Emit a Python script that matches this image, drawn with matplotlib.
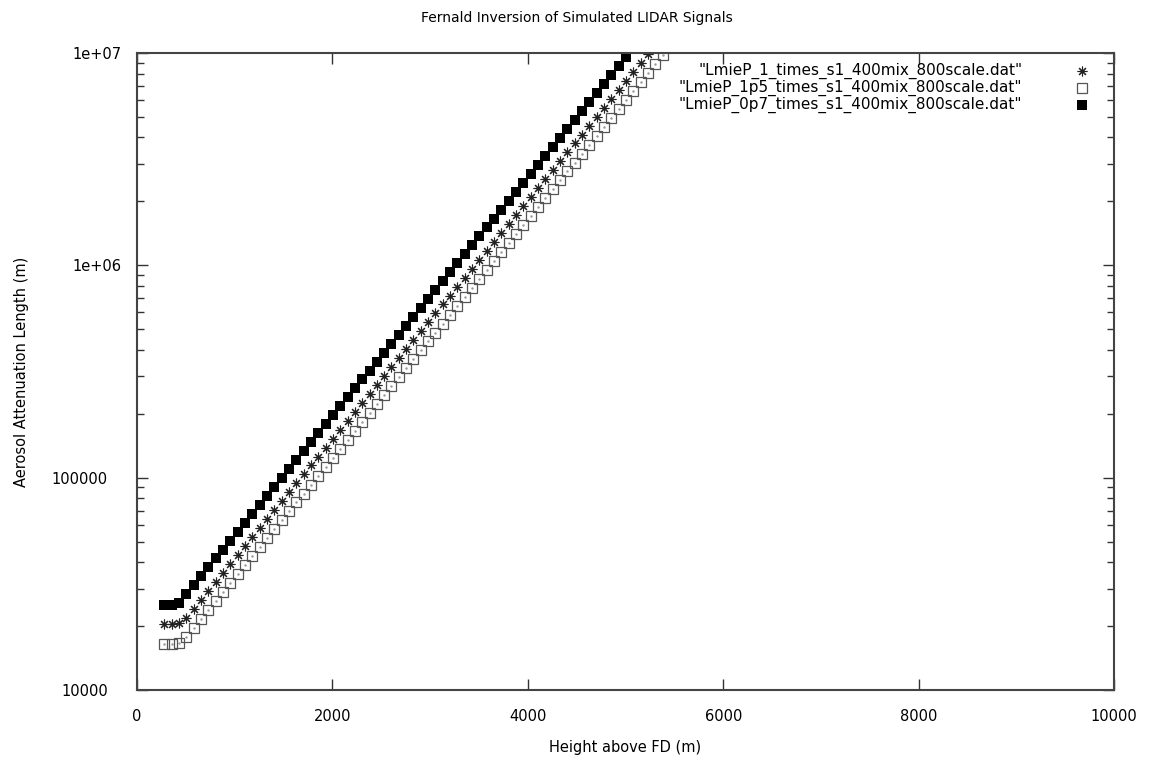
import numpy as np
import matplotlib
matplotlib.use('Agg')
import matplotlib.pyplot as plt
import matplotlib.transforms as mtransforms
from matplotlib.ticker import FixedLocator, LogLocator, NullFormatter

# range bins (m), 75 m step
height = [280 + 75 * k for k in range(69)]

# LmieP_0p7 (filled squares)
L_0p7 = [25000, 25000, 25600, 28260, 31130, 34300, 37800, 41650, 45880, 50560,
         55710, 61400, 67650, 74540, 82130, 90500, 99720, 109900, 121100, 133400,
         147000, 162000, 178500, 196700, 216700, 238800, 263000, 290000, 319400, 351900,
         387800, 427200, 470800, 518700, 571600, 629800, 693900, 764600, 842500, 928300,
         1.023e6, 1.127e6, 1.242e6, 1.368e6, 1.508e6, 1.661e6, 1.830e6, 2.017e6, 2.223e6, 2.449e6,
         2.698e6, 2.973e6, 3.276e6, 3.610e6, 3.977e6, 4.383e6, 4.829e6, 5.321e6, 5.863e6, 6.461e6,
         7.118e6, 7.843e6, 8.644e6, 9.524e6]

# LmieP_1 (stars)
L_1 = [20500, 20500, 20700, 21930, 24160, 26620, 29330, 32320, 35600, 39230,
       43230, 47650, 52500, 57840, 63730, 70230, 77380, 85280, 93970, 103500,
       114100, 125700, 138500, 152600, 168200, 185300, 204100, 225000, 247900, 273100,
       300900, 331500, 365300, 402500, 443600, 488700, 538500, 593300, 653800, 720400,
       793800, 874600, 963800, 1.062e6, 1.170e6, 1.289e6, 1.420e6, 1.565e6, 1.725e6, 1.900e6,
       2.094e6, 2.307e6, 2.542e6, 2.801e6, 3.086e6, 3.401e6, 3.747e6, 4.129e6, 4.550e6, 5.014e6,
       5.524e6, 6.086e6, 6.708e6, 7.391e6, 8.143e6, 8.971e6, 9.886e6]

# LmieP_1p5 (open squares)
L_1p5 = [16400, 16400, 16600, 17830, 19640, 21640, 23850, 26280, 28950, 31900,
         35150, 38740, 42690, 47030, 51820, 57110, 62920, 69350, 76410, 84180,
         92760, 102200, 112600, 124100, 136700, 150700, 166000, 183000, 201500, 222000,
         244700, 269600, 297100, 327300, 360700, 397400, 437800, 482500, 531600, 585800,
         645500, 711100, 783700, 863200, 951500, 1.048e6, 1.155e6, 1.273e6, 1.403e6, 1.545e6,
         1.702e6, 1.876e6, 2.067e6, 2.278e6, 2.509e6, 2.766e6, 3.047e6, 3.358e6, 3.700e6, 4.077e6,
         4.491e6, 4.949e6, 5.454e6, 6.010e6, 6.621e6, 7.294e6, 8.039e6, 8.859e6, 9.761e6]

labels = ['"LmieP_1_times_s1_400mix_800scale.dat"',
          '"LmieP_1p5_times_s1_400mix_800scale.dat"',
          '"LmieP_0p7_times_s1_400mix_800scale.dat"']

xticks = [0, 2000, 4000, 6000, 8000, 10000]
yticks = [1e4, 1e5, 1e6, 1e7]
yticklabels = ['10000', '100000', '1e+06', '1e+07']

plt.rcParams['font.family'] = 'DejaVu Sans'
plt.rcParams['font.size'] = 10.5

fig = plt.figure(figsize=(11.5, 7.61), dpi=100)
ax = fig.add_axes([0.1191, 0.0933, 0.8496, 0.8371])

star = dict(marker=(8, 2, 0), markersize=7, color='#222222', mew=0.8, ls='none')
osq = dict(marker='s', markersize=6.5, mfc='none', mec='#555555', mew=0.9, ls='none')
fsq = dict(marker='s', markersize=6.5, color='black', mew=0, ls='none')

ax.plot(height[:len(L_1)], L_1, **star)
ax.plot(height[:len(L_1p5)], L_1p5, **osq)
ax.plot(height[:len(L_1p5)], L_1p5, marker='.', markersize=1.5, color='#999999', ls='none')
ax.plot(height[:len(L_0p7)], L_0p7, **fsq)

ax.set_yscale('log')
ax.set_xlim(0, 10000)
ax.set_ylim(1e4, 1e7)
ax.xaxis.set_major_locator(FixedLocator(xticks))
ax.set_xticklabels([str(t) for t in xticks])
ax.yaxis.set_major_locator(FixedLocator(yticks))
ax.set_yticklabels(yticklabels)
ax.yaxis.set_minor_locator(LogLocator(base=10, subs=np.arange(2, 10)))
ax.yaxis.set_minor_formatter(NullFormatter())

ax.tick_params(which='both', direction='in', top=True, right=True, color='#333333')
ax.tick_params(which='major', length=8, width=1)
ax.tick_params(axis='x', which='major', pad=14)
ax.tick_params(axis='y', which='major', pad=11)
ax.tick_params(which='minor', length=5, width=1)
for s in ax.spines.values():
    s.set_linewidth(1.5)
    s.set_color('#444444')

# gnuplot misaligns the plain-number labels against the 1e+0x ones
shift = mtransforms.ScaledTranslation(-10 / 72, 0, fig.dpi_scale_trans)
for t in ax.get_yticklabels():
    if 'e' not in t.get_text():
        t.set_transform(t.get_transform() + shift)

ax.set_xlabel('Height above FD (m)', labelpad=11)
ax.set_ylabel('Aerosol Attenuation Length (m)')
ax.yaxis.set_label_coords(-0.11, 0.5)
fig.text(0.502, 0.976, 'Fernald Inversion of Simulated LIDAR Signals', ha='center', va='center',
         fontsize=10)

# legend, gnuplot style: right-aligned text, sample to the right
styles = [star, osq, fsq]
rows = [0.9717, 0.945, 0.918]
for lab, st, yy in zip(labels, styles, rows):
    ax.text(0.906, yy, lab, transform=ax.transAxes, ha='right', va='center', fontsize=11)
    ax.plot([0.967], [yy], transform=ax.transAxes, clip_on=False, **st)

fig.savefig('out.png', dpi=100)
